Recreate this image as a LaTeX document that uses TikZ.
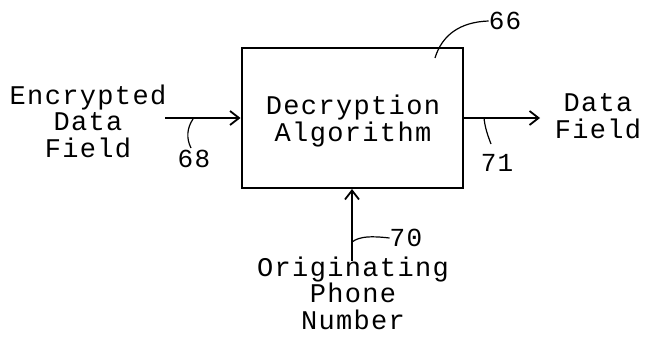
\documentclass[tikz,border=0pt]{standalone}
\usepackage{fontspec}
\setmonofont[LetterSpace=5]{Liberation Mono}
\usetikzlibrary{arrows.meta}
\begin{document}
\begin{tikzpicture}[x=1pt,y=-1pt,
  txt/.style={font=\ttfamily\fontsize{27}{26.5}\selectfont, align=center, inner sep=0pt},
  num/.style={font=\ttfamily\fontsize{26}{24}\selectfont, inner sep=0pt},
  flow/.style={line width=2.2pt, -{Straight Barb[length=9pt,width=14pt,line width=1.8pt]}},
  lead/.style={line width=1.2pt},
  blk/.style={draw, line width=2pt, minimum width=221pt, minimum height=140pt, inner sep=0pt}]
\useasboundingbox (0,0) rectangle (649,337);
\node[blk] (box) at (352,118) {};
\node[txt] (alg) at (353,121) {Decryption\\[1pt]Algorithm};
\node[txt] (enc) at (88,121) {Encrypted\\Data\\Field};
\node[txt] (out) at (598,116) {Data\\Field};
\node[txt] (orig) at (353,293) {Originating\\Phone\\Number};
\coordinate (inS) at (165,118);
\coordinate (outE) at (540,118);
\coordinate (upS) at (352,261);
\draw[flow] (inS) -- (box.west |- inS);
\draw[flow] (box.east |- outE) -- (outE);
\draw[flow] (upS) -- (box.south -| upS);
\node[num] (n66) at (505,21) {66};
\node[num] (n68) at (194,159) {68};
\node[num] (n71) at (497,163) {71};
\node[num] (n70) at (406,238) {70};
\draw[lead] (435,58) .. controls (442,35) and (460,22) .. (n66.west);
\draw[lead] (193,119) .. controls (187,128) and (186,138) .. (191,148);
\draw[lead] (484,118) .. controls (485,128) and (488,136) .. (491,144);
\draw[lead] (352,242) .. controls (360,236) and (372,236) .. (n70.west);
\end{tikzpicture}
\end{document}
